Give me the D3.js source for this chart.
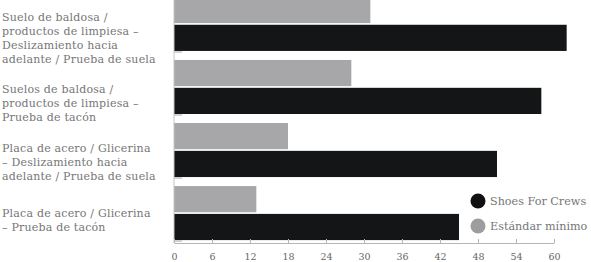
<!DOCTYPE html>
<html>
<head>
<meta charset="utf-8">
<script src="https://cdn.jsdelivr.net/npm/d3@7"></script>
<style>
  body { margin: 0; background: #fff; }
</style>
</head>
<body>
<svg id="chart"></svg>
<script>
(function () {
  const categories = [
    ["Suelo de baldosa /", "productos de limpiesa –", "Deslizamiento hacia", "adelante / Prueba de suela"],
    ["Suelos de baldosa /", "productos de limpiesa –", "Prueba de tacón"],
    ["Placa de acero / Glicerina", "– Deslizamiento hacia", "adelante / Prueba de suela"],
    ["Placa de acero / Glicerina", "– Prueba de tacón"],
  ];
  const seriesNames = ["Estándar mínimo", "Shoes For Crews"];
  const minimo = [31, 28, 18, 13];
  const shoes = [62, 58, 51, 45];
  const ticks = [0, 6, 12, 18, 24, 30, 36, 42, 48, 54, 60];

  const width = 591;
  const height = 262;
  const colors = { "Estándar mínimo": "#a7a7a9", "Shoes For Crews": "#141517" };
  const legendColors = { "Estándar mínimo": "#9d9da0", "Shoes For Crews": "#111" };

  const svg = d3
    .select("#chart")
    .attr("width", width)
    .attr("height", height);

  const data = categories.map((c, i) => ({
    key: i,
    lines: c,
    values: [
      { name: seriesNames[0], value: minimo[i] },
      { name: seriesNames[1], value: shoes[i] },
    ],
  }));

  const x = d3.scaleLinear().domain([0, 60]).range([174, 554]);
  const y = d3
    .scaleBand()
    .domain(data.map((d) => d.key))
    .range([-7.5, 244.5])
    .paddingInner(0.143)
    .paddingOuter(0.07);
  const ySub = d3
    .scaleBand()
    .domain(seriesNames)
    .range([0, y.bandwidth()])
    .paddingInner(0.06);

  // bars
  const groups = svg
    .selectAll(".group")
    .data(data)
    .enter()
    .append("g")
    .attr("transform", (d) => `translate(0, ${y(d.key)})`);

  groups
    .selectAll("rect")
    .data((d) => d.values)
    .enter()
    .append("rect")
    .attr("x", x(0))
    .attr("y", (d) => ySub(d.name))
    .attr("width", (d) => x(d.value) - x(0))
    .attr("height", ySub.bandwidth())
    .attr("fill", (d) => colors[d.name]);

  // small ticks under each group
  groups
    .append("line")
    .attr("x1", x(0))
    .attr("x2", x(0) + 8)
    .attr("y1", y.bandwidth() + 1)
    .attr("y2", y.bandwidth() + 1)
    .attr("stroke", "#c4c4c4")
    .attr("stroke-width", 1.5);

  // category labels (roughly centred on the black bar)
  const lineH = 14;
  const labelShift = [0, 2, -2, -7];
  groups
    .append("text")
    .attr("font-family", "'DejaVu Serif', serif")
    .attr("font-size", "11px")
    .attr("letter-spacing", "0.2px")
    .attr("fill", "#767676")
    .each(function (d) {
      const cy = ySub(seriesNames[1]) + ySub.bandwidth() / 2 + labelShift[d.key];
      const top = cy - ((d.lines.length - 1) * lineH) / 2;
      d3.select(this)
        .selectAll("tspan")
        .data(d.lines)
        .enter()
        .append("tspan")
        .attr("x", 2)
        .attr("y", (l, i) => top + i * lineH)
        .attr("dy", "0.35em")
        .text((l) => l);
    });

  // axes
  const axisY = 243;
  svg
    .append("line")
    .attr("x1", x(0))
    .attr("x2", x(0))
    .attr("y1", 0)
    .attr("y2", axisY)
    .attr("stroke", "#c4c4c4");

  const xAxis = svg
    .append("g")
    .attr("transform", `translate(0, ${axisY})`)
    .call(d3.axisBottom(x).tickValues(ticks).tickSizeInner(-4).tickSizeOuter(0).tickPadding(10));
  xAxis.select(".domain").attr("stroke", "#b5b5b5");
  xAxis.selectAll(".tick line").attr("stroke", "#b5b5b5");
  xAxis
    .selectAll("text")
    .attr("font-family", "'DejaVu Serif', serif")
    .attr("font-size", "9.5px")
    .attr("fill", "#666");

  // legend
  const legend = svg
    .selectAll(".legend")
    .data([seriesNames[1], seriesNames[0]])
    .enter()
    .append("g")
    .attr("transform", (d, i) => `translate(478, ${201 + i * 25})`);
  legend
    .append("circle")
    .attr("r", 7.5)
    .attr("fill", (d) => legendColors[d]);
  legend
    .append("text")
    .attr("x", 12)
    .attr("dy", "0.35em")
    .attr("font-family", "'DejaVu Serif', serif")
    .attr("font-size", "11.2px")
    .attr("fill", "#767676")
    .text((d) => d);
})();
</script>
</body>
</html>
